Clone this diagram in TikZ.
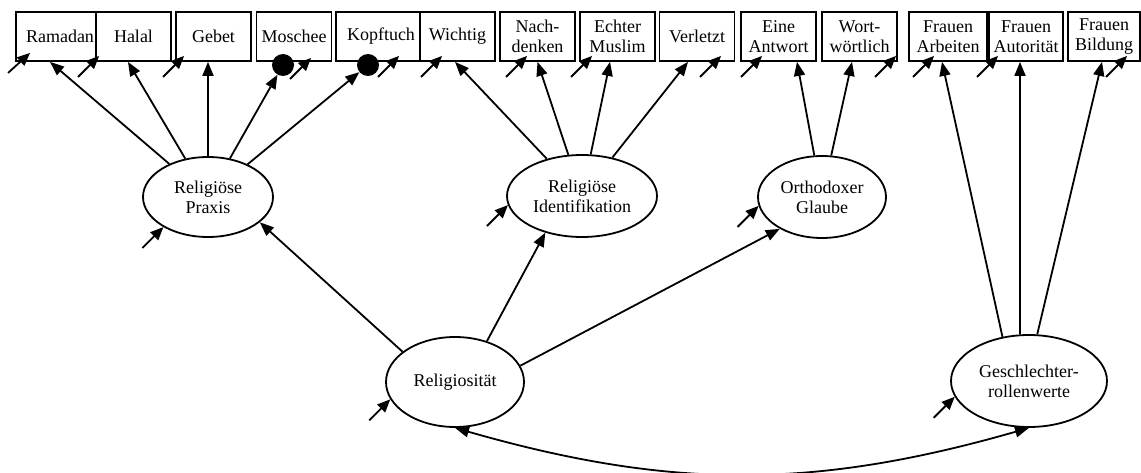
\documentclass[tikz,border=0pt]{standalone}
\usepackage{fontspec}
\setmainfont{Liberation Serif}
\usepackage{tikz}
\usetikzlibrary{arrows.meta}
\usetikzlibrary{shapes.geometric}

\begin{document}
\begin{tikzpicture}[x=1pt, y=1pt,
		font=\fontsize{18}{20}\selectfont,
		varBox/.style={rectangle, draw=black, fill=white, line width=1.8pt, minimum height=49pt, inner sep=1pt, align=center},
		factorEll/.style={ellipse, draw=black, line width=1.8pt, inner sep=0pt, align=center},
		dotNode/.style={circle, fill=black, minimum size=22pt, inner sep=0pt},
		pathArrow/.style={-{Triangle[length=14pt,width=11pt]}, line width=1.8pt},
		biArrow/.style={{Triangle[length=14pt,width=11pt]}-{Triangle[length=14pt,width=11pt]}, line width=1.8pt},
		errArrow/.style={{Triangle[length=13pt,width=11pt]}-, line width=1.8pt}]

		\useasboundingbox (0,0) rectangle (1141,-473);

		% indicator boxes
		\node[varBox, minimum width=88pt](ramadan) at (60,-36.5){Ramadan};
		\node[varBox, minimum width=75pt](halal) at (133.5,-36.5){Halal};
		\node[varBox, minimum width=75pt](gebet) at (213.5,-36.5){Gebet};
		\node[varBox, minimum width=75pt](moschee) at (294,-36.5){Moschee};
		\node[varBox, minimum width=90pt](kopftuch) at (381,-36.5){Kopftuch};
		\node[varBox, minimum width=75pt](wichtig) at (457.5,-36.5){Wichtig};
		\node[varBox, minimum width=75pt](nachdenken) at (537.5,-36.5){Nach-\\denken};
		\node[varBox, minimum width=75pt](echter) at (617.5,-36.5){Echter\\Muslim};
		\node[varBox, minimum width=75pt](verletzt) at (697,-36.5){Verletzt};
		\node[varBox, minimum width=75pt](antwort) at (778.5,-36.5){Eine\\Antwort};
		\node[varBox, minimum width=75pt](woertlich) at (859.5,-36.5){Wort-\\wörtlich};
		\node[varBox, minimum width=78pt](fArbeit) at (948,-36.5){Frauen\\Arbeiten};
		\node[varBox, minimum width=74pt](fAutor) at (1026,-36.5){Frauen\\Autorität};
		\node[varBox, minimum width=72pt](fBildung) at (1104,-36.5){Frauen\\Bildung};

		\node[dotNode](moscheeDot) at (283,-65){};
		\node[dotNode](kopftuchDot) at (368,-65){};

		% latent factors
		\node[factorEll, minimum width=130pt, minimum height=80pt](praxis) at (208,-197){Religiöse\\Praxis};
		\node[factorEll, minimum width=150pt, minimum height=82pt](ident) at (582,-196){Religiöse\\Identifikation};
		\node[factorEll, minimum width=128pt, minimum height=82pt](glaube) at (822,-197){Orthodoxer\\Glaube};
		\node[factorEll, minimum width=138pt, minimum height=90pt](relig) at (455,-382){Religiosität};
		\node[factorEll, minimum width=156pt, minimum height=92pt](gender) at (1029,-381){Geschlechter-\\rollenwerte};

		% draw loading edges
		\draw[pathArrow] (praxis) -- ([xshift=-10pt]ramadan.south);
		\draw[pathArrow] (praxis) -- ([xshift=-5.5pt]halal.south);
		\draw[pathArrow] (praxis) -- ([xshift=-5.5pt]gebet.south);
		\draw[pathArrow] (praxis) -- (moscheeDot);
		\draw[pathArrow] (praxis) -- (kopftuchDot);

		\draw[pathArrow] (ident) -- ([xshift=-2.5pt]wichtig.south);
		\draw[pathArrow] (ident) -- (nachdenken.south);
		\draw[pathArrow] (ident) -- ([xshift=-7.5pt]echter.south);
		\draw[pathArrow] (ident) -- ([xshift=-9pt]verletzt.south);

		\draw[pathArrow] (glaube) -- ([xshift=18.5pt]antwort.south);
		\draw[pathArrow] (glaube) -- ([xshift=-7.5pt]woertlich.south);

		\draw[pathArrow] (gender.121) -- ([xshift=-6pt]fArbeit.south);
		\draw[pathArrow] (gender.101) -- ([xshift=-6pt]fAutor.south);
		\draw[pathArrow] (gender.80) -- ([xshift=-2pt]fBildung.south);

		% draw second order edges
		\draw[pathArrow] (relig.150) -- (praxis.334);
		\draw[pathArrow] (relig.52) -- (ident.225);
		\draw[pathArrow] (relig.14) -- (glaube.217);

		% draw correlation
		\draw[biArrow] (relig.south) to[bend right=16] (gender.south);

		% draw error edges
		\draw[errArrow] ([xshift=15pt,yshift=9pt]ramadan.south west) -- ++(-22,-20);
		\draw[errArrow] ([xshift=4pt,yshift=6pt]halal.south west) -- ++(-21,-21);
		\draw[errArrow] ([xshift=9pt,yshift=6pt]gebet.south west) -- ++(-21,-21);
		\draw[errArrow] ([xshift=55.5pt,yshift=4pt]moschee.south west) -- ++(-21,-21);
		\draw[errArrow] ([xshift=64pt,yshift=6pt]kopftuch.south west) -- ++(-21,-21);
		\draw[errArrow] ([xshift=23pt,yshift=6pt]wichtig.south west) -- ++(-21,-21);
		\draw[errArrow] ([xshift=28pt,yshift=6pt]nachdenken.south west) -- ++(-21,-21);
		\draw[errArrow] ([xshift=13pt,yshift=6pt]echter.south west) -- ++(-21,-21);
		\draw[errArrow] ([xshift=62.5pt,yshift=6pt]verletzt.south west) -- ++(-21,-21);
		\draw[errArrow] ([xshift=22pt,yshift=6pt]antwort.south west) -- ++(-21,-21);
		\draw[errArrow] ([xshift=75pt,yshift=6pt]woertlich.south west) -- ++(-21,-21);
		\draw[errArrow] ([xshift=26pt,yshift=6pt]fArbeit.south west) -- ++(-21,-21);
		\draw[errArrow] ([xshift=10pt,yshift=6pt]fAutor.south west) -- ++(-21,-21);
		\draw[errArrow] ([xshift=60pt,yshift=6pt]fBildung.south west) -- ++(-21,-21);

		\draw[errArrow] (praxis.214) -- ++(-21,-21);
		\draw[errArrow] (ident.187) -- ++(-21,-21);
		\draw[errArrow] (glaube.188) -- ++(-21,-21);
		\draw[errArrow] (relig.195) -- ++(-21,-21);
		\draw[errArrow] (gender.192) -- ++(-21,-21);

	\end{tikzpicture}
\end{document}
